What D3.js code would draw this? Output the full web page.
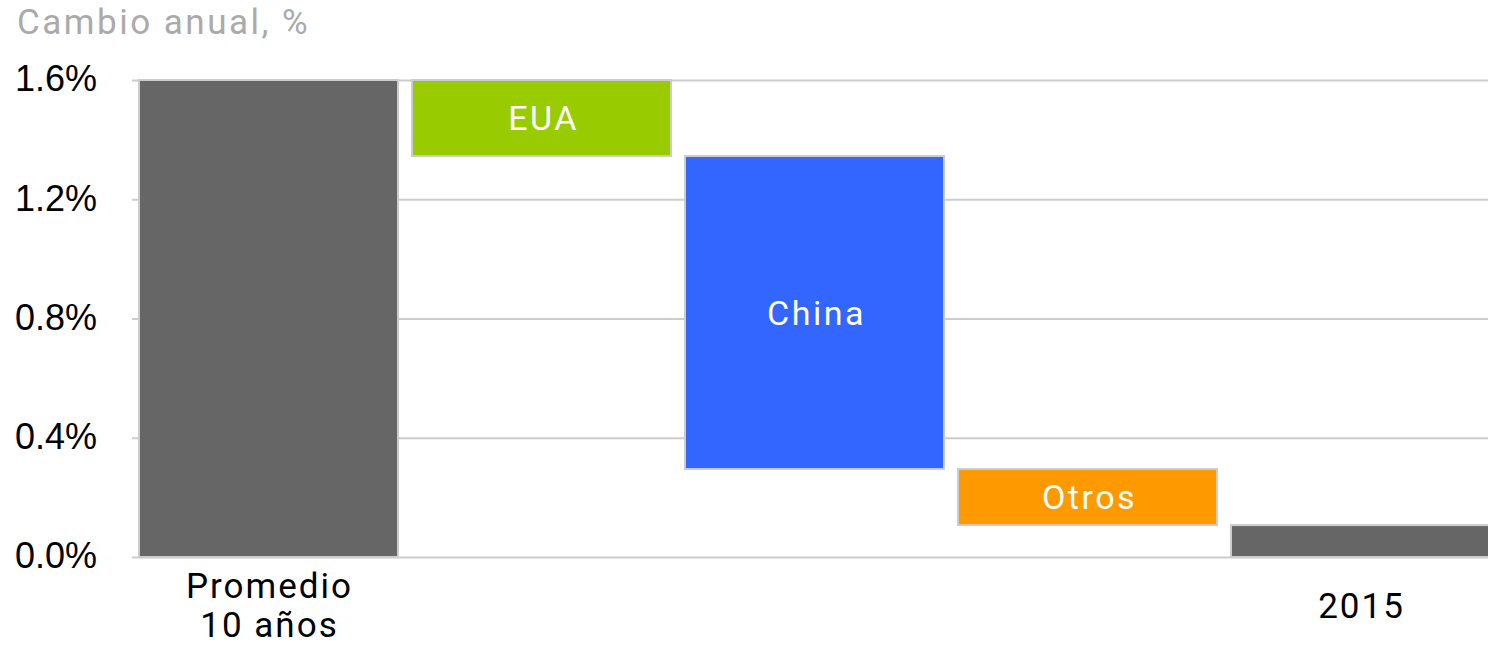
<!DOCTYPE html>
<html>
<head>
<meta charset="utf-8">
<script src="https://cdn.jsdelivr.net/npm/d3@7"></script>
<style>
  body { margin: 0; background: #fff; }
  svg { display: block; font-family: Roboto, "Liberation Sans", sans-serif; }
</style>
</head>
<body>
<div id="chart"></div>
<script>
const categories = ["Promedio|10 años", "EUA", "China", "Otros", "2015"]
const barFrom = [0, 1.6, 1.345, 0.295, 0]
const barTo = [1.6, 1.345, 0.295, 0.107, 0.107]
const barColors = ["#666666", "#99cc00", "#3366ff", "#ff9900", "#666666"]
const insideLabels = ["", "EUA", "China", "Otros", ""]
const yTicks = [0, 0.4, 0.8, 1.2, 1.6]

const width = 1488
const height = 651
const plotLeft = 132
const plotTop = 80
const plotBottom = 557

const svg = d3.select('#chart')
  .append('svg')
    .attr('width', width)
    .attr('height', height)

const yScale = d3.scaleLinear()
  .domain([0, 1.6])
  .range([plotBottom, plotTop])

const xScale = d3.scaleBand()
  .domain(categories)
  .range([plotLeft, plotLeft + 5 * 273])
  .paddingInner(14 / 273)
  .paddingOuter(7 / 273)

// grid + y labels
const yAxis = svg.append('g')
  .attr('transform', 'translate(' + plotLeft + ',0)')
  .call(d3.axisLeft(yScale)
    .tickValues(yTicks)
    .tickSize(-(width - plotLeft))
    .tickPadding(35)
    .tickFormat(d => d.toFixed(1) + '%'))
yAxis.select('.domain').remove()
yAxis.selectAll('line').attr('stroke', '#cccccc').attr('stroke-width', 2)
yAxis.selectAll('text')
  .attr('fill', '#000')
  .style('font-size', '36px')
  .attr('dy', '0.3em')

svg.append('text')
  .attr('x', 17)
  .attr('y', 34)
  .attr('fill', '#aaaaaa')
  .style('font-size', '35px')
  .style('letter-spacing', '2.5px')
  .text('Cambio anual, %')

const bars = svg.append('g')
bars.selectAll('rect')
  .data(categories)
  .enter()
  .append('rect')
    .attr('x', d => xScale(d))
    .attr('y', (d, i) => yScale(Math.max(barFrom[i], barTo[i])))
    .attr('width', xScale.bandwidth())
    .attr('height', (d, i) => Math.abs(yScale(barFrom[i]) - yScale(barTo[i])))
    .attr('fill', (d, i) => barColors[i])
    .attr('stroke', '#cccccc')
    .attr('stroke-width', 2)

svg.append('g').selectAll('text')
  .data(categories)
  .enter()
  .append('text')
    .attr('x', d => xScale(d) + xScale.bandwidth() / 2 + 2)
    .attr('y', (d, i) => yScale((barFrom[i] + barTo[i]) / 2))
    .attr('dy', '0.36em')
    .attr('text-anchor', 'middle')
    .attr('fill', '#fff')
    .style('font-size', '34px')
    .style('letter-spacing', '2.5px')
    .text((d, i) => insideLabels[i])

// category labels below
const xl = svg.append('g')
categories.forEach((c, i) => {
  if (insideLabels[i]) return
  const lines = c.split('|')
  const t = xl.append('text')
    .attr('text-anchor', 'middle')
    .attr('fill', '#000')
    .style('font-size', '35px')
    .style('letter-spacing', '2px')
  const cy = 606
  const lh = 39
  lines.forEach((ln, j) => {
    t.append('tspan')
      .attr('x', xScale(c) + xScale.bandwidth() / 2 + 1)
      .attr('y', cy + (j - (lines.length - 1) / 2) * lh)
      .attr('dy', '0.33em')
      .text(ln)
  })
})
</script>
</body>
</html>
